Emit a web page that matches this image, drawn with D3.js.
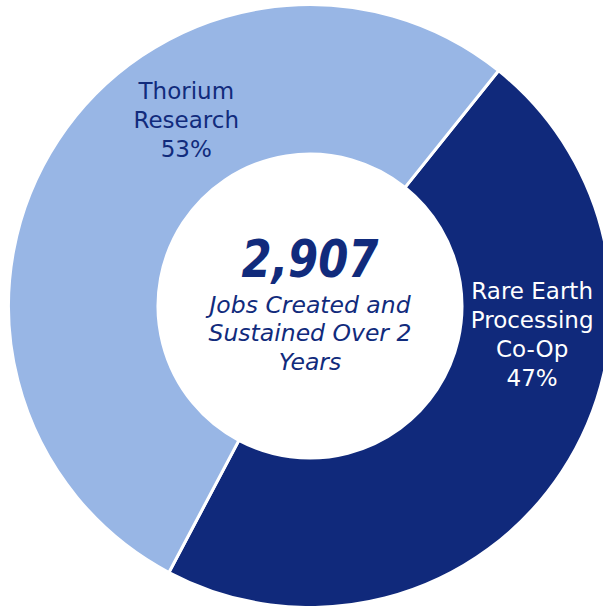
<!DOCTYPE html>
<html>
<head>
<meta charset="utf-8">
<script src="https://cdn.jsdelivr.net/npm/d3@7"></script>
<style>
	body { margin: 0; background: #fff; }
	svg { display: block; }
	text { font-family: "DejaVu Sans", sans-serif; }
</style>
</head>
<body>
<div id="chartDiv"></div>
<script>
// data
var categories = ["Rare Earth Processing Co-Op", "Thorium Research"];
var shares = [47, 53];
var labelLines = [["Rare Earth", "Processing", "Co-Op", "47%"], ["Thorium", "Research", "53%"]];
var totalJobs = 2907;
var centerLines = ["Jobs Created and", "Sustained Over 2", "Years"];

var width = 603, height = 606;
var cx = 310, cy = 306;
var outerR = 301.5, innerR = 152;
var colors = ["#10297b", "#98b6e5"];
var textColors = ["#ffffff", "#112b7c"];
// hand-placed label spots (degrees clockwise from 12 o'clock, radius)
var labelSpots = [{a: 97.4, r: 224}, {a: -33.7, r: 223}];
var lineH = 29;

var svg = d3.select("#chartDiv").append("svg")
	.attr("width", width)
	.attr("height", height);

var g = svg.append("g").attr("transform", "translate(" + cx + "," + cy + ")");

var startA = 38.7 * Math.PI / 180;
var pie = d3.pie().sort(null).value(function(d) { return d; })
	.startAngle(startA).endAngle(startA + 2 * Math.PI);

var arc = d3.arc().innerRadius(innerR).outerRadius(outerR);

g.selectAll("path.slice")
	.data(pie(shares))
	.enter().append("path")
	.attr("class", "slice")
	.attr("d", arc)
	.attr("fill", function(d, i) { return colors[i]; })
	.attr("stroke", "#fff")
	.attr("stroke-width", 3)
	.attr("stroke-linejoin", "miter");

// slice labels
var labels = g.selectAll("text.lab")
	.data(categories)
	.enter().append("text")
	.attr("class", "lab")
	.attr("text-anchor", "middle")
	.attr("font-size", 23)
	.attr("fill", function(d, i) { return textColors[i]; })
	.attr("transform", function(d, i) {
		var s = labelSpots[i];
		var rad = s.a * Math.PI / 180;
		var x = s.r * Math.sin(rad), y = -s.r * Math.cos(rad);
		var n = labelLines[i].length;
		var y0 = y - (n - 1) * lineH / 2 + 8;
		return "translate(" + x + "," + y0 + ")";
	});
labels.each(function(d, i) {
	var t = d3.select(this);
	labelLines[i].forEach(function(line, j) {
		t.append("tspan").attr("x", 0).attr("dy", j === 0 ? 0 : lineH).text(line);
	});
});

// center text
g.append("text")
	.attr("text-anchor", "middle")
	.attr("y", -29)
	.attr("font-size", 52)
	.attr("font-weight", "bold")
	.attr("font-style", "italic")
	.attr("fill", "#112b7c")
	.attr("textLength", 137)
	.attr("lengthAdjust", "spacingAndGlyphs")
	.text(d3.format(",")(totalJobs));

var sub = g.append("text")
	.attr("text-anchor", "middle")
	.attr("font-size", 23.5)
	.attr("font-style", "italic")
	.attr("fill", "#112b7c")
	.attr("y", 6.5);
centerLines.forEach(function(line, j) {
	sub.append("tspan").attr("x", 0).attr("dy", j === 0 ? 0 : 28.5).text(line);
});
</script>
</body>
</html>
